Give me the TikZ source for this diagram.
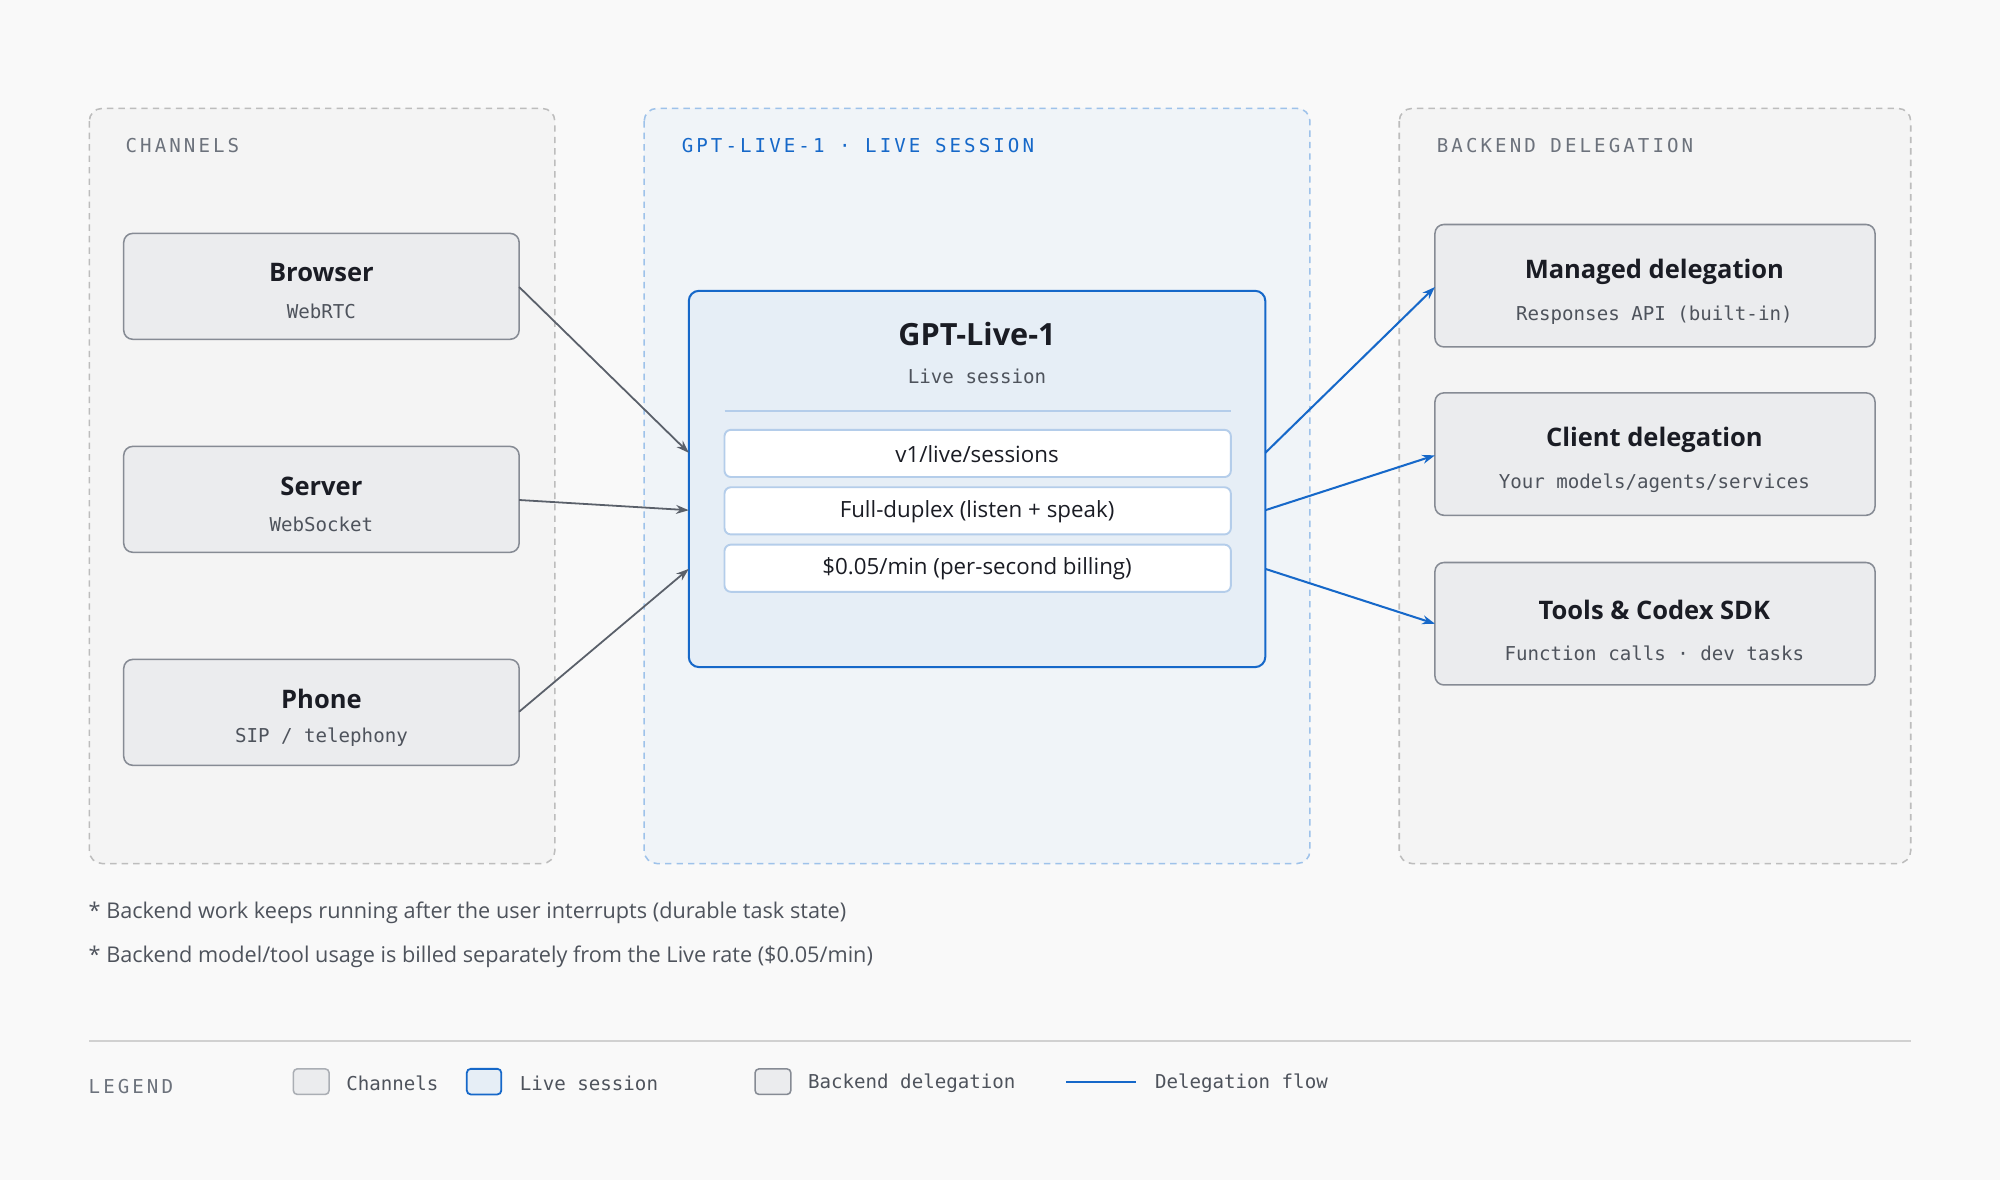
\documentclass[tikz,border=0pt]{standalone}
\usepackage{fontspec}
\setmainfont{Open Sans}
\newfontfamily\mono{DejaVu Sans Mono}
\newfontfamily\caps{DejaVu Sans Mono}[LetterSpace=16]
\usetikzlibrary{arrows.meta}
\definecolor{bg}{HTML}{F9F9F9}
\definecolor{panel}{HTML}{F4F4F4}
\definecolor{livepanel}{HTML}{F0F4F8}
\definecolor{dash}{HTML}{BDBDBD}
\definecolor{bdash}{HTML}{9EC2EA}
\definecolor{boxf}{HTML}{EBECEE}
\definecolor{boxs}{HTML}{868B94}
\definecolor{arr}{HTML}{5A606A}
\definecolor{blue}{HTML}{1668C9}
\definecolor{livef}{HTML}{E6EEF6}
\definecolor{rows}{HTML}{B4CDEA}
\definecolor{txt}{HTML}{1A1C24}
\definecolor{sub}{HTML}{4E535C}
\definecolor{lab}{HTML}{6C727C}
\begin{document}
\begin{tikzpicture}[x=1pt,y=-1pt,
 pan/.style={draw=dash,line width=1.2pt,dash pattern=on 5pt off 4pt,rounded corners=10pt,fill=panel},
 box/.style={draw=boxs,line width=1.2pt,fill=boxf,rounded corners=7pt},
 row/.style={draw=rows,line width=1.5pt,fill=white,rounded corners=5pt},
 ttl/.style={font=\bfseries\fontsize{20}{24}\selectfont,text=txt},
 sb/.style={font=\mono\fontsize{15}{18}\selectfont,text=sub},
 capl/.style={font=\caps\fontsize{15}{18}\selectfont,anchor=west},
 garr/.style={draw=arr,line width=1.4pt,-{Stealth[length=10pt,width=7pt]}},
 barr/.style={draw=blue,line width=1.6pt,-{Stealth[length=10pt,width=7pt]}}]
\useasboundingbox[fill=bg] (0,0) rectangle (1568,925);
\draw[pan] (70,85) rectangle (435,677);
\draw[pan,draw=bdash,fill=livepanel] (505,85) rectangle (1027,677);
\draw[pan] (1097,85) rectangle (1498,677);
\node[capl,text=lab] (l1) at (95,114) {CHANNELS};
\node[capl,text=blue] (l2) at (531,114) {GPT-LIVE-1 · LIVE SESSION};
\node[capl,text=lab] (l3) at (1123,114) {BACKEND DELEGATION};
% channels
\foreach \n/\t/\s/\y in {br/Browser/WebRTC/183,sv/Server/WebSocket/350,ph/Phone/SIP \slash{} telephony/517}{
 \draw[box] (97,\y) rectangle (407,\y+83);
 \node[ttl] (\n t) at (252,\y+31) {\t};
 \node[sb] (\n s) at (252,\y+61) {\s};
}
\coordinate (brR) at (407,225); \coordinate (svR) at (407,392); \coordinate (phR) at (407,558);
% live box
\draw[draw=blue,line width=1.6pt,fill=livef,rounded corners=8pt] (540,228) rectangle (992,523);
\node[font=\bfseries\fontsize{24}{28}\selectfont,text=txt] (gt) at (766,262) {GPT-Live-1};
\node[sb] (gs) at (766,295) {Live session};
\draw[rows,line width=1.5pt] (568,322) -- (965,322);
\draw[row] (568,337) rectangle (965,374);
\draw[row] (568,382) rectangle (965,419);
\draw[row] (568,427) rectangle (965,464);
\node[font=\fontsize{17.5}{20}\selectfont,text=txt] (r1) at (766,356) {v1/live/sessions};
\node[font=\fontsize{17.5}{20}\selectfont,text=txt] (r2) at (766,401) {Full-duplex (listen + speak)};
\node[font=\fontsize{17.5}{20}\selectfont,text=txt] (r3) at (766,446) {\$0.05/min (per-second billing)};
\coordinate (gL1) at (540,355); \coordinate (gL2) at (540,400); \coordinate (gL3) at (540,446);
\coordinate (gR1) at (992,355); \coordinate (gR2) at (992,400); \coordinate (gR3) at (992,446);
% backend
\foreach \n/\t/\s/\y in {md/Managed delegation/Responses API (built-in)/176,cd/Client delegation/Your models\slash{}agents\slash{}services/308,tc/Tools \& Codex SDK/Function calls · dev tasks/441}{
 \draw[box] (1125,\y) rectangle (1470,\y+96);
 \node[ttl] (\n t) at (1297,\y+37) {\t};
 \node[sb] (\n s) at (1297,\y+71) {\s};
}
\coordinate (mdL) at (1125,225); \coordinate (cdL) at (1125,357); \coordinate (tcL) at (1125,489);
\draw[garr] (brR) -- (gL1);
\draw[garr] (svR) -- (gL2);
\draw[garr] (phR) -- (gL3);
\draw[barr] (gR1) -- (mdL);
\draw[barr] (gR2) -- (cdL);
\draw[barr] (gR3) -- (tcL);
% notes
\node[anchor=west,font=\fontsize{17}{20}\selectfont,text=sub] (n1) at (66,716) {* Backend work keeps running after the user interrupts (durable task state)};
\node[anchor=west,font=\fontsize{17}{20}\selectfont,text=sub] (n2) at (66,750) {* Backend model/tool usage is billed separately from the Live rate (\$0.05/min)};
\draw[dash!70,line width=1.2pt] (70,816) -- (1498,816);
% legend
\node[capl,text=lab] (lg) at (66,852) {LEGEND};
\draw[box,rounded corners=3pt,draw=boxs!70] (230,838) rectangle (258,858);
\node[anchor=west,font=\mono\fontsize{15}{18}\selectfont,text=sub] (lg1) at (268,849) {Channels};
\draw[draw=blue,line width=1.4pt,fill=livef,rounded corners=3pt] (366,838) rectangle (393,858);
\node[anchor=west,font=\mono\fontsize{15}{18}\selectfont,text=sub] (lg2) at (404,849) {Live session};
\draw[box,rounded corners=3pt] (592,838) rectangle (620,858);
\node[anchor=west,font=\mono\fontsize{15}{18}\selectfont,text=sub] (lg3) at (630,849) {Backend delegation};
\coordinate (la) at (836,848); \coordinate (lb) at (891,848);
\draw[blue,line width=1.6pt] (la) -- (lb);
\node[anchor=west,font=\mono\fontsize{15}{18}\selectfont,text=sub] (lg4) at (902,849) {Delegation flow};
\end{tikzpicture}
\end{document}
